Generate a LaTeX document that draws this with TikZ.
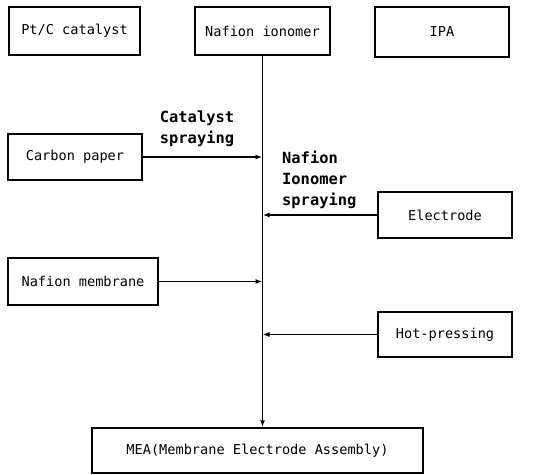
\documentclass[tikz,border=0pt]{standalone}
\usepackage{fontspec}
\newfontfamily\boxfont{DejaVu Sans Mono}
\usetikzlibrary{arrows.meta}

\tikzset{
  box/.style={draw, line width=1.5pt, inner sep=0pt, font=\boxfont\fontsize{13.6}{15}\selectfont},
  steplabel/.style={font=\boxfont\bfseries\fontsize{15.4}{21}\selectfont, inner sep=0pt},
  flow/.style={line width=1.4pt, -{Latex[length=7pt,width=5pt]}}
}

\begin{document}
\begin{tikzpicture}[x=1pt, y=-1pt]
  \useasboundingbox (0,0) rectangle (534,474);

  \node[box, minimum width=131pt, minimum height=48pt] (ptc) at (74.5,31) {Pt/C catalyst};
  \node[box, minimum width=135pt, minimum height=48pt] (ion) at (262.5,31) {Nafion ionomer};
  \node[box, minimum width=134pt, minimum height=50pt] (ipa) at (442,32) {IPA};

  \node[box, minimum width=134pt, minimum height=46pt] (carbon) at (75,157) {Carbon paper};
  \node[box, minimum width=134pt, minimum height=46pt] (elec) at (445,215) {Electrode};
  \node[box, minimum width=150pt, minimum height=47pt] (memb) at (83,281.5) {Nafion membrane};
  \node[box, minimum width=134pt, minimum height=45pt] (hot) at (445,334.5) {Hot-pressing};

  \node[box, minimum width=331pt, minimum height=45pt] (mea) at (257.5,450.5) {MEA(Membrane Electrode Assembly)};

  % process labels
  \node[steplabel, align=center] (catspray) at (197,129) {Catalyst\\spraying};
  \node[steplabel, align=left, anchor=west] (ionspray) at (282,180) {Nafion\\Ionomer\\spraying};

  % main line
  \draw[flow] (ion.south) -- (ion.south |- mea.north);

  \draw[flow] (carbon.east) -- (carbon.east -| ion.south);
  \draw[flow] (elec.west) -- (elec.west -| ion.south);
  \draw[flow] (memb.east) -- (memb.east -| ion.south);
  \draw[flow] (hot.west) -- (hot.west -| ion.south);
\end{tikzpicture}
\end{document}
